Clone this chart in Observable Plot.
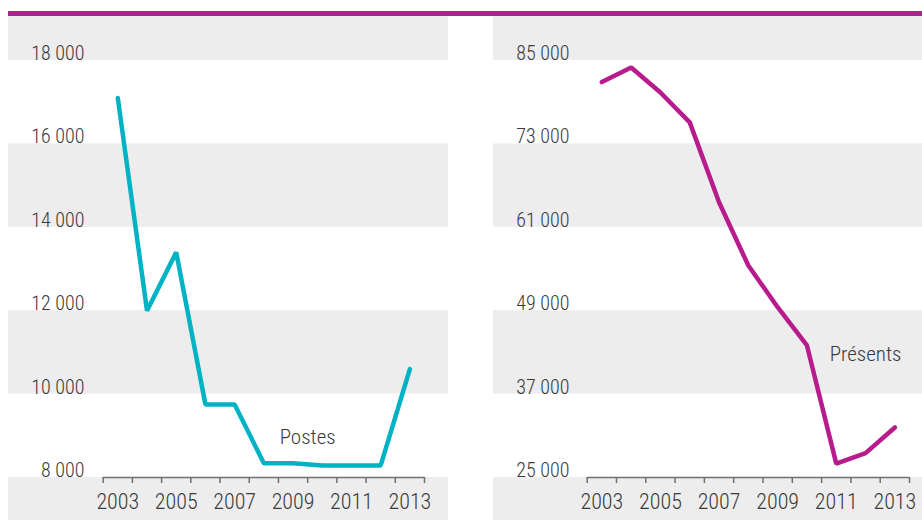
<!DOCTYPE html>
<html>
<head>
<meta charset="utf-8">
<script src="https://cdn.jsdelivr.net/npm/d3@7"></script>
<script src="https://cdn.jsdelivr.net/npm/@observablehq/plot@0.6"></script>
<style>
  html, body { margin: 0; padding: 0; background: #fff; }
  #wrap { position: relative; width: 922px; height: 520px; overflow: hidden;
          font-family: "Liberation Sans Narrow", "Roboto Condensed", "DejaVu Sans Condensed", "Liberation Sans", sans-serif; }
  #topbar { position: absolute; left: 8px; top: 11px; width: 914px; height: 5px; background: #b81c8c; }
  #left { position: absolute; left: 8px; top: 16px; }
  #right { position: absolute; left: 493px; top: 16px; }
</style>
</head>
<body>
<div id="wrap">
  <div id="topbar"></div>
  <div id="left"></div>
  <div id="right"></div>
</div>
<script>
// ---- data ----
const years = [2003, 2004, 2005, 2006, 2007, 2008, 2009, 2010, 2011, 2012, 2013];
const postes = [17100, 12000, 13400, 9750, 9750, 8340, 8340, 8290, 8290, 8290, 10600];
const presents = [81900, 84000, 80400, 76100, 64600, 55500, 49500, 44000, 27000, 28500, 32200];
const yTicksLeft = [8000, 10000, 12000, 14000, 16000, 18000];
const yTicksRight = [25000, 37000, 49000, 61000, 73000, 85000];
const xLabelYears = [2003, 2005, 2007, 2009, 2011, 2013];
const labelLeft = {text: "Postes", year: 2009.5, value: 8800};
const labelRight = {text: "Présents", year: 2012, value: 41800};
const colorPostes = "#00b3c4";
const colorPresents = "#b81c8c";

const fmt = d => d3.format(",")(d).replace(/,/g, " ");
const FONT = '"Liberation Sans Narrow", "Roboto Condensed", "DejaVu Sans Condensed", "Liberation Sans", sans-serif';

function panel({values, yTicks, color, label, width, xRange}) {
  const H = 504, yBot = 461, yTop = 44;
  const yMin = yTicks[0], yMax = yTicks[yTicks.length - 1];
  const per = (yMax - yMin) / (yBot - yTop);
  const ext = [yMin - (H - yBot) * per, ...yTicks, yMax + yTop * per];
  const bands = ext.slice(0, -1).map((v, i) => ({y1: v, y2: ext[i + 1], i})).filter(d => d.i % 2 === 0);
  const data = years.map((y, i) => ({year: y, value: values[i]}));
  const edges = years.map(y => y - 0.5).concat(years[years.length - 1] + 0.5);
  return Plot.plot({
    width, height: H,
    marginLeft: 0, marginRight: 0, marginTop: 0, marginBottom: H - yBot,
    x: {domain: [edges[0], edges[edges.length - 1]], range: xRange},
    y: {domain: [yMin, yMax], range: [yBot, yTop]},
    style: {fontFamily: FONT, fontWeight: 300, color: "#3a3a3a", background: "transparent", overflow: "hidden"},
    marks: [
      Plot.rect(bands, {y1: "y1", y2: "y2", fill: "#ededed"}),
      Plot.axisY(yTicks, {anchor: "left", label: null, tickSize: 0, tickPadding: 0, dx: 76, dy: -7, textAnchor: "end",
                          tickFormat: fmt, fontSize: 20, fontWeight: 300, fill: "#3a3a3a"}),
      Plot.ruleY([yMin], {x1: edges[0], x2: edges[edges.length - 1], stroke: "#707070", strokeWidth: 1.5}),
      Plot.axisX(edges, {anchor: "bottom", label: null, tickSize: 6, tickFormat: () => "", stroke: "#707070", strokeWidth: 1.5}),
      Plot.axisX(xLabelYears, {anchor: "bottom", label: null, tickSize: 0, tickPadding: 16, tickFormat: d => String(d),
                               fontSize: 22, fontWeight: 300, fill: "#3a3a3a", lineAnchor: "top"}),
      Plot.line(data, {x: "year", y: "value", stroke: color, strokeWidth: 4.5, strokeLinejoin: "miter"}),
      Plot.text([label], {x: "year", y: "value", text: "text", fontSize: 21, fontWeight: 300, fill: "#3a3a3a", lineAnchor: "bottom"})
    ]
  });
}

document.getElementById("left").append(panel({values: postes, yTicks: yTicksLeft, color: colorPostes,
  label: labelLeft, width: 440, xRange: [94.7, 416]}));
document.getElementById("right").append(panel({values: presents, yTicks: yTicksRight, color: colorPresents,
  label: labelRight, width: 429, xRange: [93.7, 416]}));
</script>
</body>
</html>
